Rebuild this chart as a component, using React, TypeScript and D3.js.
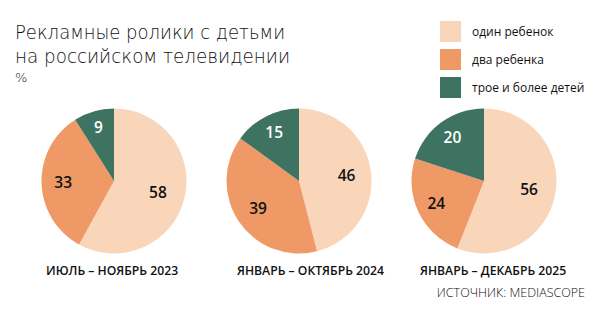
import React from "react";
import * as d3 from "d3";

const categories = ["один ребенок", "два ребенка", "трое и более детей"];
const periods = ["ИЮЛЬ – НОЯБРЬ 2023", "ЯНВАРЬ – ОКТЯБРЬ 2024", "ЯНВАРЬ – ДЕКАБРЬ 2025"];
const oneChild = [58, 46, 56];
const twoChildren = [33, 39, 24];
const threePlus = [9, 15, 20];
const colors = ["#F9D6BA", "#EE9966", "#3E7362"];
const labelColors = ["#111", "#111", "#fff"];

const W = 607;
const H = 321;
const R = 72.5;
const centersX = [114, 299, 484];
const cy = 181;
const periodX = [46, 237, 420];

export default function App() {
  const pie = d3.pie<number>().sort(null).value((d) => d);
  const arc = d3.arc<d3.PieArcDatum<number>>().innerRadius(0).outerRadius(R);
  const font = "'Open Sans', sans-serif";
  const titleFont = "'DejaVu Sans', sans-serif";
  return (
    <svg width={W} height={H} style={{ position: "absolute", left: 0, top: 0, background: "#fff" }} fontFamily={font}>
      <text x={15} y={39} fontFamily={titleFont} fontSize={19.5} fontWeight={200} fill="#111" textLength={270} lengthAdjust="spacingAndGlyphs">Рекламные ролики с детьми</text>
      <text x={15} y={63} fontFamily={titleFont} fontSize={19.5} fontWeight={200} fill="#111" textLength={275} lengthAdjust="spacingAndGlyphs">на российском телевидении</text>
      <text x={15} y={82} fontFamily={titleFont} fontSize={13} fontWeight={200} fill="#111">%</text>
      {categories.map((c, i) => (
        <g key={c}>
          <rect x={440} y={21 + i * 28} width={21} height={21} fill={colors[i]} />
          <text x={472} y={36 + i * 28} fontSize={12} fill="#111">{c}</text>
        </g>
      ))}
      {periods.map((p, k) => {
        const vals = [oneChild[k], twoChildren[k], threePlus[k]];
        const total = d3.sum(vals);
        const arcs = pie(vals);
        return (
          <g key={p}>
            <g transform={`translate(${centersX[k]},${cy})`}>
              {arcs.map((a, i) => (
                <path key={i} d={arc(a) || ""} fill={colors[i]} />
              ))}
              {arcs.map((a, i) => {
                const frac = a.data / total;
                const lr = R * (0.8 - 0.3 * frac);
                const mid = (a.startAngle + a.endAngle) / 2;
                const x = Math.sin(mid) * lr;
                const y = -Math.cos(mid) * lr;
                return (
                  <text key={"l" + i} x={x} y={y} dy="0.36em" textAnchor="middle" fontSize={15.5} fontWeight={600} fill={labelColors[i]}>
                    {a.data}
                  </text>
                );
              })}
            </g>
            <text x={periodX[k]} y={275} fontSize={12.2} fontWeight={600} fill="#111">{p}</text>
          </g>
        );
      })}
      <text x={585} y={297} textAnchor="end" fontSize={12.5} fontWeight={300} fill="#111">ИСТОЧНИК: MEDIASCOPE</text>
    </svg>
  );
}
